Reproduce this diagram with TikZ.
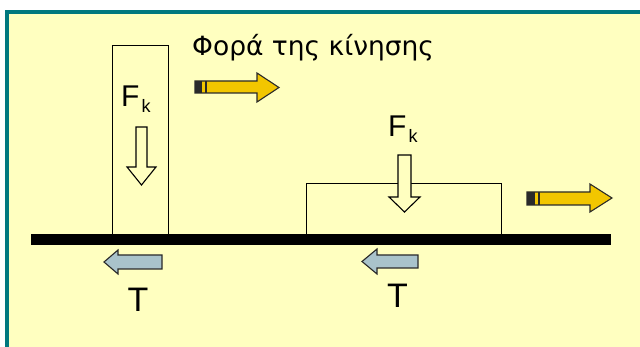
\documentclass[tikz,border=0pt]{standalone}
\usepackage{fontspec}
\setmainfont{Liberation Sans}
\newfontfamily\titlefont{DejaVu Sans}
\definecolor{bgyellow}{HTML}{FFFFC0}
\definecolor{frameteal}{HTML}{00787E}
\definecolor{arrowgold}{HTML}{F2C600}
\definecolor{arrowblue}{HTML}{A9C3CB}
\definecolor{outlinegray}{HTML}{2A2A2A}
\begin{document}
\begin{tikzpicture}[x=1pt,y=-1pt,
  bodybox/.style={draw=black, line width=1.2pt, fill=none, inner sep=0pt, anchor=north west},
  hollowarrow/.style={draw=black, line width=1.1pt, fill=bgyellow, line join=miter},
  frictionarrow/.style={draw=outlinegray, line width=1.1pt, fill=arrowblue, line join=miter},
  motionarrow/.style={draw=outlinegray, line width=1.1pt, fill=arrowgold, line join=miter},
  forcelabel/.style={inner sep=0pt, anchor=base west, font=\fontsize{30}{33}\selectfont},
]
\useasboundingbox (0,0) rectangle (640,347);
\fill[white] (0,0) rectangle (640,347);
\fill[bgyellow] (7,12) rectangle (640,347);
\draw[frameteal, line width=4.5pt, line join=miter] (7,347) -- (7,12) -- (640,12);

% bodies and ground
\node[bodybox, minimum width=56, minimum height=189] (tall) at (112,45) {};
\node[bodybox, minimum width=195, minimum height=51] (flat) at (306,183) {};
\node[fill=black, inner sep=0pt, anchor=north west, minimum width=580, minimum height=11] (ground) at (31,234) {};

% title
\node[inner sep=0pt, anchor=base west, font=\titlefont\fontsize{26.5}{30}\selectfont] (title) at (192,56) {Φορά της κίνησης};

% F_k labels
\node[forcelabel] (fk1) at (121,107) {F\kern2pt\raisebox{-6pt}{\fontsize{18}{19}\selectfont k}};
\node[forcelabel] (fk2) at (388,137) {F\kern2pt\raisebox{-6pt}{\fontsize{18}{19}\selectfont k}};

% T labels
\node[inner sep=0pt, anchor=base, font=\fontsize{34}{36}\selectfont] (t1) at (138,312) {T};
\node[inner sep=0pt, anchor=base, font=\fontsize{34}{36}\selectfont] (t2) at (397.5,308) {T};

% hollow down arrows (normal forces)
\draw[hollowarrow] (136,127) -- (147,127) -- (147,167) -- (156,167) -- (141.5,185) -- (127,167) -- (136,167) -- cycle;
\draw[hollowarrow] (398,155) -- (411,155) -- (411,197) -- (420,197) -- (404.5,212) -- (389,197) -- (398,197) -- cycle;

% friction arrows
\draw[frictionarrow] (162,255) -- (162,269) -- (118,269) -- (118,274) -- (104,262) -- (118,250) -- (118,255) -- cycle;
\draw[frictionarrow] (418,255) -- (418,268) -- (377,268) -- (377,274) -- (362,261.5) -- (377,249) -- (377,255) -- cycle;

% motion arrows
\fill[arrowgold] (195,81) -- (257,81) -- (257,73) -- (279,87.5) -- (257,102) -- (257,93) -- (195,93) -- cycle;
\fill[outlinegray] (195,81) rectangle (202,93);
\fill[outlinegray] (205,81) rectangle (207,93);
\draw[motionarrow, fill=none] (195,81) -- (257,81) -- (257,73) -- (279,87.5) -- (257,102) -- (257,93) -- (195,93) -- cycle;

\fill[arrowgold] (527,192) -- (590,192) -- (590,184) -- (612,198) -- (590,212) -- (590,205) -- (527,205) -- cycle;
\fill[outlinegray] (527,192) rectangle (535,205);
\fill[outlinegray] (538,192) rectangle (540,205);
\draw[motionarrow, fill=none] (527,192) -- (590,192) -- (590,184) -- (612,198) -- (590,212) -- (590,205) -- (527,205) -- cycle;
\end{tikzpicture}
\end{document}
